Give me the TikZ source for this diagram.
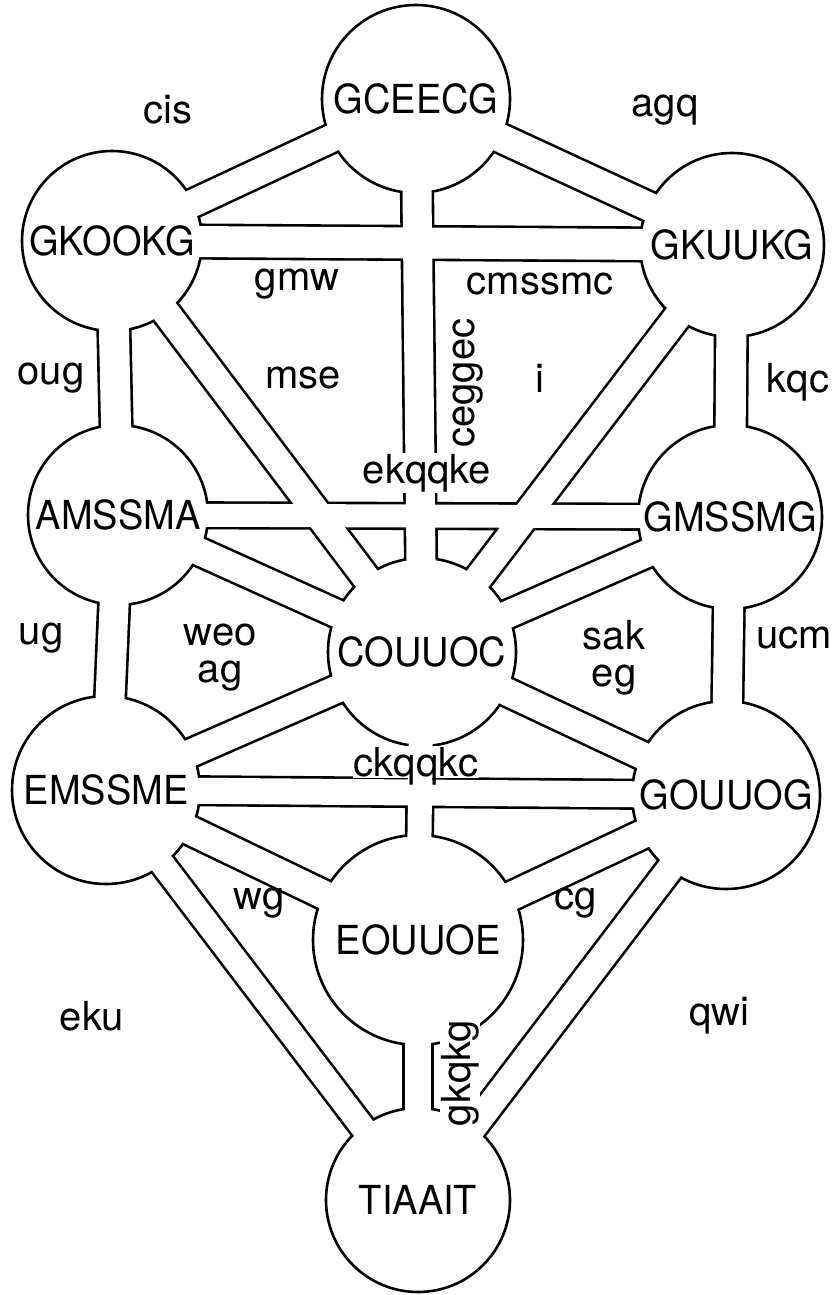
\documentclass[tikz,border=0pt]{standalone}
\usepackage{fontspec}
\setmainfont{TeX Gyre Heros}
\newfontfamily\capsfont[FakeStretch=0.95]{TeX Gyre Heros}
\pgfdeclarelayer{edges}
\pgfdeclarelayer{discs}
\pgfdeclarelayer{gaps}
\pgfsetlayers{edges,discs,gaps,main}

% channels: from / to / inner width
\def\chans{gceecg/gkuukg/28, gceecg/gkookg/27, gceecg/couuoc/29,
  gkookg/gkuukg/31, gkookg/couuoc/27, gkuukg/couuoc/27,
  gkookg/amssma/30, gkuukg/gmssmg/30, amssma/gmssmg/23,
  amssma/couuoc/27, gmssmg/couuoc/27, amssma/emssme/29,
  gmssmg/gouuog/29, emssme/couuoc/27, gouuog/couuoc/27,
  couuoc/eouuoe/24, emssme/gouuog/26, emssme/eouuoe/28,
  gouuog/eouuoe/28, emssme/tiaait/24, gouuog/tiaait/26,
  eouuoe/tiaait/26}

\begin{document}
\begin{tikzpicture}[
    x=1pt, y=-1pt,
    sefira/.style={circle, inner sep=0pt, font=\capsfont\fontsize{40}{44}\selectfont},
    lbl/.style={inner sep=1pt, align=center, font=\fontsize{40}{37}\selectfont},
    cut/.style={lbl, fill=white},
    disc/.style={fill=white, draw=black, line width=2.6pt},
    chanedge/.style={draw=black, line cap=butt},
    changap/.style={draw=white, line cap=butt},
  ]
    \useasboundingbox (0,0) rectangle (835,1295);

    % Spheres
    \node[sefira] (gceecg) at (416,99)   {GCEECG};
    \node[sefira] (gkookg) at (112,241)  {GKOOKG};
    \node[sefira] (gkuukg) at (732,245)  {GKUUKG};
    \node[sefira] (amssma) at (118,515)  {AMSSMA};
    \node[sefira] (gmssmg) at (730,517)  {GMSSMG};
    \node[sefira] (couuoc) at (422,652)  {COUUOC};
    \node[sefira] (emssme) at (106,790)  {EMSSME};
    \node[sefira] (gouuog) at (726,795)  {GOUUOG};
    \node[sefira] (eouuoe) at (418,940)  {EOUUOE};
    \node[sefira] (tiaait) at (418,1200) {TIAAIT};

    % Channel labels
    \node[lbl] (cis) at (168,110) {cis};
    \node[lbl] (agq) at (665,110) {agq};
    \node[lbl] (gmw) at (297,284) {gmw};
    \node[lbl] (cmssmc) at (540,284) {cmssmc};
    \node[lbl, rotate=90] (ceggec) at (468,383) {ceggec};
    \node[lbl] (i) at (540,378) {i};
    \node[lbl] (mse) at (303,378) {mse};
    \node[lbl] (oug) at (51,378) {oug};
    \node[lbl] (kqc) at (798,382) {kqc};
    \node[cut] (ekqqke) at (427,473) {ekqqke};
    \node[lbl] (ug) at (41,638) {ug};
    \node[lbl] (weoag) at (220,658) {weo\\ag};
    \node[lbl] (sakeg) at (614,658) {sak\\eg};
    \node[lbl] (ucm) at (794,638) {ucm};
    \node[cut, text depth=0pt] (ckqqkc) at (416,762) {ckqqkc};
    \node[lbl] (wg) at (259,903) {wg};
    \node[lbl] (cg) at (576,903) {cg};
    \node[lbl] (eku) at (92,1016) {eku};
    \node[lbl] (qwi) at (719,1016) {qwi};
    \node[cut, rotate=90] (gkqkg) at (460,1073) {gkqkg};

    % Channel walls
    \begin{pgfonlayer}{edges}
      \fill[white] (0,0) rectangle (835,1295);
      \foreach \a/\b/\w [evaluate=\w as \wo using \w+5.2] in \chans
        \draw[chanedge, line width=\wo pt] (\a.center) -- (\b.center);
    \end{pgfonlayer}

    % Sphere outlines
    \begin{pgfonlayer}{discs}
      \foreach \n/\r in {gceecg/94, gkookg/90, gkuukg/92, amssma/90, gmssmg/92,
          couuoc/94, emssme/94, gouuog/94, eouuoe/105, tiaait/92}
        \draw[disc] (\n.center) circle[radius=\r pt];
    \end{pgfonlayer}

    % Open the channels
    \begin{pgfonlayer}{gaps}
      \foreach \a/\b/\w in \chans
        \draw[changap, line width=\w pt] (\a.center) -- (\b.center);
    \end{pgfonlayer}
\end{tikzpicture}
\end{document}
